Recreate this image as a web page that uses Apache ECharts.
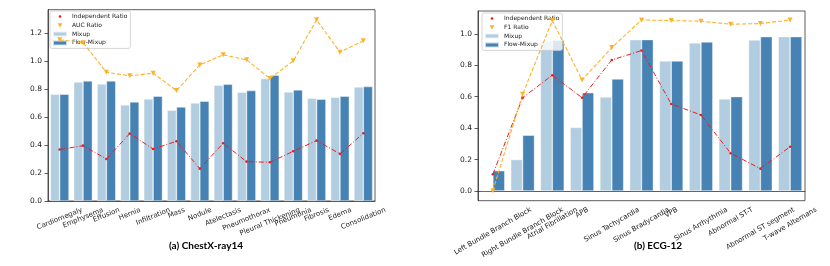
<!DOCTYPE html>
<html><head><meta charset="utf-8">
<script src="https://cdn.jsdelivr.net/npm/echarts@6/dist/echarts.min.js"></script>
<style>html,body{margin:0;padding:0;background:#fff}#c{width:830px;height:266px}</style>
</head><body><div id="c"></div>
<script>
// ---------- data ----------
const chestCategories = ['Cardiomegaly','Emphysema','Effusion','Hernia','Infiltration','Mass','Nodule','Atelectasis','Pneumothorax','Pleural Thickening','Pneumonia','Fibrosis','Edema','Consolidation'];
const chestMixup = [0.762,0.850,0.836,0.686,0.729,0.648,0.700,0.826,0.776,0.874,0.779,0.733,0.740,0.814];
const chestFlowMixup = [0.762,0.857,0.857,0.707,0.748,0.671,0.712,0.833,0.788,0.898,0.793,0.726,0.748,0.817];
const chestIndependentRatio = [0.367,0.395,0.300,0.481,0.371,0.426,0.231,0.412,0.281,0.276,0.355,0.431,0.336,0.483];
const chestAucRatio = [1.15,1.13,0.919,0.893,0.912,0.788,0.971,1.043,1.007,0.874,1.000,1.293,1.062,1.143];
const chestYTicks = [0,0.2,0.4,0.6,0.8,1.0,1.2];

const ecgCategories = ['Left Bundle Branch Block','Right Bundle Branch Block','Atrial Fibrillation','APB','Sinus Tachycardia','Sinus Bradycardia','VPB','Sinus Arrhythmia','Abnormal ST-T','Abnormal ST segment','T-wave Alternans'];
const ecgMixup = [0.004,0.200,0.953,0.405,0.599,0.964,0.828,0.943,0.586,0.962,0.983];
const ecgFlowMixup = [0.129,0.355,0.960,0.626,0.713,0.964,0.828,0.949,0.601,0.983,0.983];
const ecgIndependentRatio = [0.106,0.594,0.737,0.594,0.834,0.894,0.554,0.484,0.240,0.142,0.282];
const ecgF1Ratio = [0.002,0.616,1.085,0.707,0.913,1.089,1.085,1.081,1.062,1.066,1.089];
const ecgYTicks = [0,0.2,0.4,0.6,0.8,1.0];

const titleA = '(a) ChestX-ray14';
const titleB = '(b) ECG-12';

// ---------- style ----------
const FONT = 'DejaVu Sans';
const XLAB = 7, YLAB = 7.5;
const C_MIX = '#b3cde0', C_FLOW = '#4682b4', C_RED = '#ee1c1c', C_ORG = '#fdb22b';
const AX = '#333';

const ctx = document.createElement('canvas').getContext('2d');
ctx.font = XLAB + 'px "' + FONT + '"';
// emulate centre-aligned rotated tick labels (rotated bbox centred under tick)
function rotatedItems(cats, deg) {
  const t = deg * Math.PI / 180, s = Math.sin(t), c = Math.cos(t);
  const h = XLAB;
  return cats.map(name => {
    const w = ctx.measureText(name).width;
    const pt = Math.max(0, w * s * c / 2 - h * s * s / 2);
    const pr = 2 * s * (pt + h / 2) / c;
    return { value: name, textStyle: { align: 'center', verticalAlign: 'top',
      fontFamily: FONT, fontSize: XLAB, color: '#222',
      padding: [pt, pr, 0, 0] } };
  });
}

const dotIcon = 'path://M0,0 M14,5 M5.7,2.5 a1.3,1.3 0 1,0 2.6,0 a1.3,1.3 0 1,0 -2.6,0 Z';
const triIcon = 'path://M0,0 M14,5 M4.6,0.4 L9.4,0.4 L7,4.6 Z';

function legendFor(left, top, ratioName) {
  return {
    orient: 'vertical', left: left, top: top,
    itemWidth: 14, itemHeight: 5, itemGap: 1.8, itemTextGap: 4,
    padding: [2, 3, 2, 2],
    borderColor: '#cccccc', borderWidth: 0.8, borderRadius: 2,
    backgroundColor: 'rgba(255,255,255,0.8)',
    textStyle: { fontFamily: FONT, fontSize: 6, color: '#222', lineHeight: 7 },
    data: [
      { name: 'Independent Ratio', icon: dotIcon },
      { name: ratioName, icon: triIcon },
      { name: 'Mixup', icon: 'rect' },
      { name: 'Flow-Mixup', icon: 'rect' }
    ]
  };
}

function xAxisFor(gi, cats, deg) {
  return {
    type: 'category', gridIndex: gi, data: rotatedItems(cats, deg),
    axisLine: { lineStyle: { color: AX, width: 0.8 } },
    axisTick: { alignWithLabel: true, length: 3.5, interval: 0, lineStyle: { color: AX, width: 0.8 } },
    axisLabel: { rotate: deg, align: 'center', verticalAlign: 'top', interval: 0, margin: 5.5,
      fontFamily: FONT, fontSize: XLAB, color: '#222' },
    splitLine: { show: false }
  };
}
function yAxisFor(gi, min, max, ticks) {
  return {
    type: 'value', gridIndex: gi, min: min, max: max,
    axisLine: { show: true, lineStyle: { color: AX, width: 0.8 } },
    axisTick: { show: true, length: 3.5, customValues: ticks, lineStyle: { color: AX, width: 0.8 } },
    axisLabel: { customValues: ticks, margin: 6, fontFamily: FONT, fontSize: YLAB, color: '#222',
      formatter: v => v.toFixed(1) },
    splitLine: { show: false }
  };
}
function barSeries(name, gi, data, color) {
  return { type: 'bar', name: name, xAxisIndex: gi, yAxisIndex: gi, data: data,
    barWidth: '40%', barGap: '0%',
    itemStyle: { color: color, borderColor: 'rgba(255,255,255,0.7)', borderWidth: 0.6 }, z: 2 };
}
function redLine(gi, data) {
  return { type: 'line', name: 'Independent Ratio', xAxisIndex: gi, yAxisIndex: gi, data: data,
    symbol: 'circle', symbolSize: 2.6, showSymbol: true,
    lineStyle: { color: C_RED, width: 1, type: [5, 2, 1, 2] },
    itemStyle: { color: C_RED }, z: 5 };
}
function orangeLine(name, gi, data) {
  return { type: 'line', name: name, xAxisIndex: gi, yAxisIndex: gi, data: data,
    symbol: 'triangle', symbolRotate: 180, symbolSize: 5, showSymbol: true,
    lineStyle: { color: C_ORG, width: 1.1, type: [4, 2] },
    itemStyle: { color: C_ORG }, z: 5 };
}

const chart = echarts.init(document.getElementById('c'), null, { renderer: 'canvas' });
chart.setOption({
  animation: false,
  backgroundColor: '#fff',
  title: [
    { text: titleA, left: 206, top: 241, textAlign: 'center', padding: 0,
      textStyle: { fontFamily: 'Lato', fontWeight: 'bold', fontSize: 10, color: '#000' } },
    { text: titleB, left: 658, top: 241, textAlign: 'center', padding: 0,
      textStyle: { fontFamily: 'Lato', fontWeight: 'bold', fontSize: 10, color: '#000' } }
  ],
  legend: [legendFor(50, 11, 'AUC Ratio'), legendFor(482, 13, 'F1 Ratio')],
  grid: [
    { left: 48, right: 455, top: 9.7, bottom: 65, show: true, borderColor: AX, borderWidth: 0.8, outerBoundsMode: 'none', containLabel: false },
    { left: 478, right: 25, top: 11, bottom: 65.3, show: true, borderColor: AX, borderWidth: 0.8, outerBoundsMode: 'none', containLabel: false }
  ],
  xAxis: [xAxisFor(0, chestCategories, 22), xAxisFor(1, ecgCategories, 30)],
  yAxis: [yAxisFor(0, 0, 1.365, chestYTicks), yAxisFor(1, -0.062, 1.146, ecgYTicks)],
  series: [
    barSeries('Mixup', 0, chestMixup, C_MIX),
    barSeries('Flow-Mixup', 0, chestFlowMixup, C_FLOW),
    redLine(0, chestIndependentRatio),
    orangeLine('AUC Ratio', 0, chestAucRatio),
    barSeries('Mixup', 1, ecgMixup, C_MIX),
    barSeries('Flow-Mixup', 1, ecgFlowMixup, C_FLOW),
    redLine(1, ecgIndependentRatio),
    orangeLine('F1 Ratio', 1, ecgF1Ratio)
  ]
});
</script></body></html>
